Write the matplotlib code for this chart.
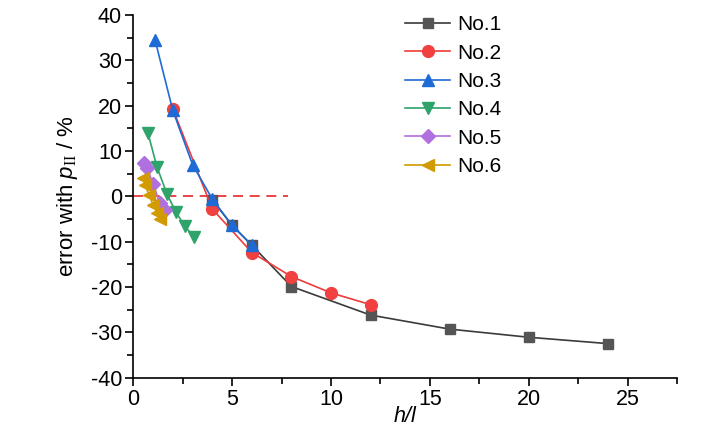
import matplotlib.pyplot as plt
import numpy as np

plt.rcParams['font.family'] = ['Liberation Sans', 'DejaVu Sans']
plt.rcParams['mathtext.fontset'] = 'custom'
plt.rcParams['mathtext.rm'] = 'Liberation Serif'
plt.rcParams['mathtext.it'] = 'Liberation Sans:italic'
plt.rcParams['axes.unicode_minus'] = False

# h/l values and errors (%)
x1 = [4, 5, 6, 8, 12, 16, 20, 24]
y1 = [-0.8, -6.4, -10.8, -19.9, -26.2, -29.3, -31.1, -32.5]
x2 = [2, 4, 6, 8, 10, 12]
y2 = [19.3, -2.8, -12.4, -17.7, -21.3, -23.9]
x3 = [1.1, 2, 3, 4, 5, 6]
y3 = [34.6, 19.0, 7.0, -0.6, -6.4, -10.8]
x4 = [0.75, 1.2, 1.7, 2.15, 2.6, 3.05]
y4 = [13.9, 6.5, 0.6, -3.4, -6.5, -8.9]
x5 = [0.55, 0.7, 1.0, 1.35, 1.6]
y5 = [7.3, 6.3, 2.8, -1.5, -3.0]
x6 = [0.5, 0.6, 0.8, 1.0, 1.2, 1.35]
y6 = [4.0, 2.5, 0.3, -1.8, -3.6, -5.0]
labels = ["No.1", "No.2", "No.3", "No.4", "No.5", "No.6"]

fig = plt.figure(figsize=(7.28, 4.33), dpi=100)
ax = fig.add_axes([0.183, 0.128, 0.747, 0.837])

ax.plot([0, 7.85], [0, 0], color="#e8262a", linestyle=(0, (6, 4)), lw=1.2, zorder=1)

ax.plot(x1, y1, color="#3a3a3a", lw=1.2, marker="s", ms=7.5, mfc="#555555", mec="#555555", label=labels[0], zorder=2)
ax.plot(x2, y2, color="#ee3b3b", lw=1.2, marker="o", ms=8.5, mfc="#f04040", mec="#f04040", label=labels[1], zorder=3)
ax.plot(x3, y3, color="#1e6bd6", lw=1.2, marker="^", ms=9, mfc="#1e6bd6", mec="#1e6bd6", label=labels[2], zorder=4)
ax.plot(x4, y4, color="#2ea36a", lw=1.2, marker="v", ms=9, mfc="#2ea36a", mec="#2ea36a", label=labels[3], zorder=4)
ax.plot(x5, y5, color="#b070e0", lw=1.2, marker="D", ms=7.5, mfc="#b070e0", mec="#b070e0", label=labels[4], zorder=4)
ax.plot(x6, y6, color="#d19a00", lw=1.2, marker="<", ms=9, mfc="#d19a00", mec="#d19a00", label=labels[5], zorder=5)

ax.set_xlim(0, 27.5)
ax.set_ylim(-40, 40)
ax.set_xticks([0, 5, 10, 15, 20, 25])
ax.set_xticks(np.arange(2.5, 28, 5), minor=True)
ax.set_yticks(np.arange(-40, 41, 10))
ax.set_yticks(np.arange(-35, 40, 10), minor=True)
ax.spines['top'].set_visible(False)
ax.spines['right'].set_visible(False)
ax.tick_params(which='major', direction='out', length=6, width=1.2, labelsize=15.5, pad=2)
ax.tick_params(which='minor', direction='out', length=4, width=1.2)
for s in ['left', 'bottom']:
    ax.spines[s].set_linewidth(1.2)

ax.set_xlabel("h/l", fontsize=15.5, style='italic', labelpad=-3)
ax.set_ylabel(r"error with $\mathit{p}_{\mathrm{II}}$ / %", fontsize=16, labelpad=8)

ax.legend(loc="upper left", bbox_to_anchor=(0.530, 1.008), bbox_transform=fig.transFigure,
          frameon=False, fontsize=15, handlelength=2.2, labelspacing=0.45, handletextpad=0.35)

plt.savefig("out.png", dpi=100)
